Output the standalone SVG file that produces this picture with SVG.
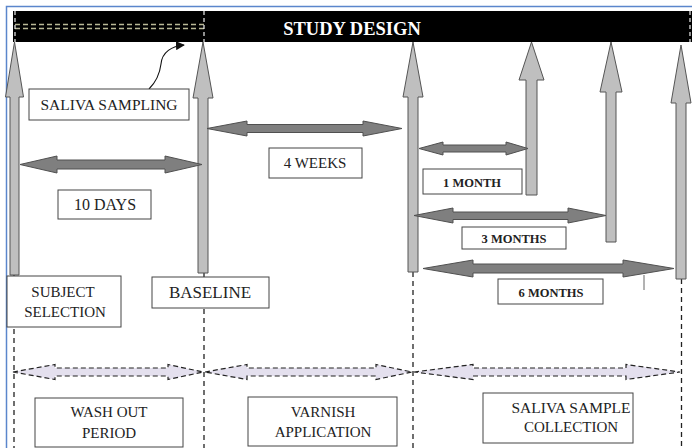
<svg xmlns="http://www.w3.org/2000/svg" width="692" height="448" viewBox="0 0 692 448" font-family="'Liberation Serif', 'Times New Roman', serif">
<defs>
<style>
text{font-family:'Liberation Serif','Times New Roman',serif}
.t{fill:#222;text-anchor:middle}
.r{font-size:15px}
.b{font-size:12.5px;font-weight:bold}
.box{fill:#fff;stroke:#444;stroke-width:1}
.up{fill:#bfbfbf;stroke:#555;stroke-width:1}
.dbl{fill:#7f7f7f;stroke:#505050;stroke-width:1}
.dsh{fill:#e4e0ee;stroke:#222;stroke-width:1.2;stroke-dasharray:5 3}
.vd{stroke:#222;stroke-width:1.3;stroke-dasharray:5 4;fill:none}
.wd{stroke:#eee;stroke-width:1.2;stroke-dasharray:4 3;fill:none}
</style>
<marker id="ah" viewBox="0 0 10 10" refX="9" refY="5" markerWidth="9" markerHeight="9" markerUnits="userSpaceOnUse" orient="auto">
<path d="M0,0 L10,5 L0,10 z" fill="#111"/>
</marker>
</defs>
<rect width="692" height="448" fill="#fff"/>
<path d="M6.5,448 V6.5 H692" fill="none" stroke="#5b86cc" stroke-width="1.5"/>

<g id="header">
<rect x="13" y="11" width="679" height="31" fill="#000"/>
<line x1="15" y1="24.5" x2="204" y2="24.5" stroke="#b9b896" stroke-width="1.3" stroke-dasharray="5 3"/>
<line x1="15" y1="28.5" x2="204" y2="28.5" stroke="#b9b896" stroke-width="1.3" stroke-dasharray="5 3"/>
<line class="wd" x1="15" y1="11" x2="15" y2="42"/>
<line class="wd" x1="204" y1="11" x2="204" y2="42"/>
<line class="wd" x1="690" y1="11" x2="690" y2="42"/>
<text x="352" y="35" font-size="18.5" font-weight="bold" fill="#fff" text-anchor="middle">STUDY DESIGN</text>
</g>

<g id="connectors">
<line class="vd" x1="14" y1="275" x2="14" y2="448"/>
<line class="vd" x1="204" y1="273" x2="204" y2="448"/>
<line class="vd" x1="413" y1="272" x2="413" y2="448"/>
<line class="vd" x1="681.5" y1="279" x2="681.5" y2="448"/>

<polygon class="up" points="14.5,42 23.5,97 19,97 19,275 10,275 10,97 5.5,97"/>
<polygon class="up" points="203,42 213,98 208,98 208,273 198,273 198,98 193,98"/>
<polygon class="up" points="413,42 423,97 418,97 418,272 408,272 408,97 403,97"/>
<polygon class="up" points="531.5,42 544,80 537,80 537,195 526,195 526,80 519,80"/>
<polygon class="up" points="611,42 622,92 616,92 616,242 606,242 606,92 600,92"/>
<polygon class="up" points="681,45 691,103 686,103 686,279 676,279 676,103 671,103"/>

<polygon class="dbl" points="20,164.5 57,156 57,160 165,160 165,156 202,164.5 165,173 165,169 57,169 57,173"/>
<polygon class="dbl" points="207,128.5 247,121 247,124.5 363,124.5 363,121 402,128.5 363,136 363,132.5 247,132.5 247,136"/>
<polygon class="dbl" points="419,148.5 443,142 443,145 506,145 506,142 528,148.5 506,155 506,152 443,152 443,155"/>
<polygon class="dbl" points="414,215.5 453,208 453,212 568,212 568,208 606,215.5 568,223 568,219.5 453,219.5 453,223"/>
<polygon class="dbl" points="423,268.5 473,260 473,264 623,264 623,260 674,268.5 623,277 623,273 473,273 473,277"/>
<line x1="644" y1="275" x2="644" y2="290" stroke="#666" stroke-width="1"/>

<polygon class="dsh" points="13,372 55,364.5 55,368 168,368 168,364.5 203,372 168,379.5 168,376 55,376 55,379.5"/>
<polygon class="dsh" points="205,372 247,364.5 247,368 376,368 376,364.5 412,372 376,379.5 376,376 247,376 247,379.5"/>
<polygon class="dsh" points="414,372 473,364.5 473,368 626,368 626,364.5 680,372 626,379.5 626,376 473,376 473,379.5"/>

<path d="M149,89 C158,80 160,72 161,64 C162,52 172,46 184,45" fill="none" stroke="#111" stroke-width="1.1" marker-end="url(#ah)"/>
</g>

<g id="saliva-sampling">
<rect class="box" x="29" y="89" width="160" height="31"/>
<text class="t" x="109" y="110" font-size="15.5">SALIVA SAMPLING</text>
</g>
<g id="four-weeks">
<rect class="box" x="269" y="148" width="93" height="30"/>
<text class="t r" x="315" y="168">4 WEEKS</text>
</g>
<g id="ten-days">
<rect class="box" x="58" y="190" width="93" height="29"/>
<text class="t" x="105" y="210" font-size="16">10 DAYS</text>
</g>
<g id="one-month">
<rect class="box" x="423" y="169" width="99" height="25"/>
<text class="t b" x="472" y="187">1 MONTH</text>
</g>
<g id="three-months">
<rect class="box" x="462" y="227" width="104" height="22"/>
<text class="t b" x="514" y="243">3 MONTHS</text>
</g>
<g id="six-months">
<rect class="box" x="498" y="279" width="105" height="25"/>
<text class="t b" x="551" y="297">6 MONTHS</text>
</g>
<g id="subject-selection">
<rect class="box" x="7" y="276" width="114" height="51"/>
<text class="t r" x="63" y="297">SUBJECT</text>
<text class="t r" x="65" y="317">SELECTION</text>
</g>
<g id="baseline">
<rect class="box" x="152" y="277" width="117" height="31"/>
<text class="t" x="210" y="298" font-size="17">BASELINE</text>
</g>
<g id="wash-out">
<rect class="box" x="35" y="398" width="148" height="49"/>
<text class="t r" x="109" y="417">WASH OUT</text>
<text class="t r" x="109" y="438">PERIOD</text>
</g>
<g id="varnish">
<rect class="box" x="248" y="397" width="149" height="49"/>
<text class="t r" x="323" y="417">VARNISH</text>
<text class="t r" x="323" y="437">APPLICATION</text>
</g>
<g id="saliva-collection">
<rect class="box" x="483" y="393" width="150" height="50"/>
<text class="t" x="571" y="413" font-size="15.5">SALIVA SAMPLE</text>
<text class="t r" x="571" y="432">COLLECTION</text>
</g>
</svg>
